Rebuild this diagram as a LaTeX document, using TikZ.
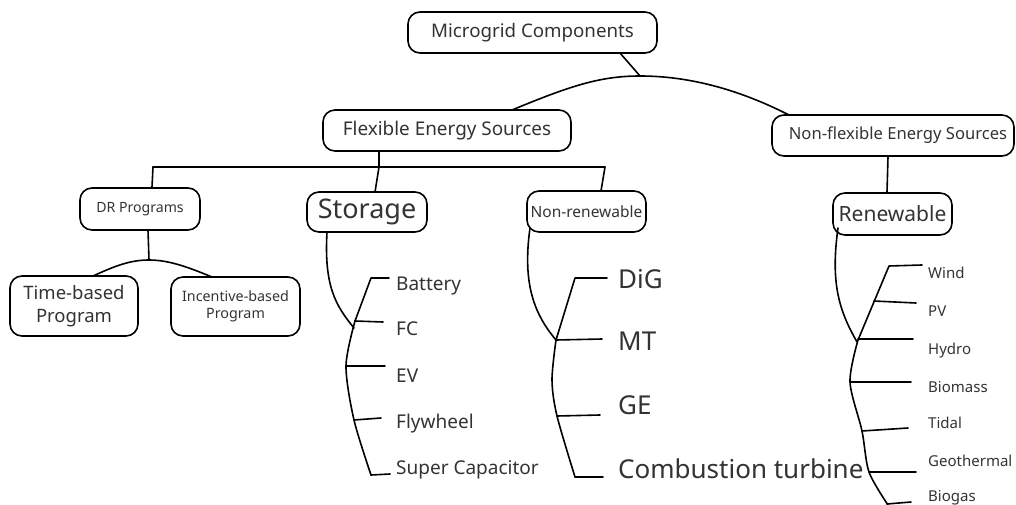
\documentclass[tikz,border=0pt]{standalone}
\usepackage{fontspec}
\setmainfont{Noto Sans}
\usetikzlibrary{calc}
\newcommand{\fs}[1]{\fontsize{#1}{#1}\selectfont}
\newcommand{\fsl}[2]{\fontsize{#1}{#2}\selectfont}
\begin{document}
\begin{tikzpicture}[x=1pt,y=-1pt,
  box/.style={draw, line width=1.6pt, rounded corners=12pt, inner sep=0pt, align=center, text=black!80},
  ln/.style={line width=1.6pt, line cap=round, line join=round},
  leaf/.style={anchor=west, inner sep=0pt, text height=0.72em, text depth=0pt, text=black!80}]
\useasboundingbox (0,0) rectangle (1016,505);
% boxes
\node[box, minimum width=249pt, minimum height=41pt, font=\fs{18.7}] (mc) at (532.5,32.5) {Microgrid Components};
\node[box, minimum width=248pt, minimum height=41pt, font=\fs{18.9}] (fes) at (447,130.5) {Flexible Energy Sources};
\node[box, minimum width=242pt, minimum height=41pt, font=\fs{16.6}] (nfes) at (893,135.5) {\hspace*{10pt}Non-flexible Energy Sources};
\node[box, minimum width=120pt, minimum height=42pt, font=\fs{14.1}] (dr) at (140,209) {DR Programs};
\node[box, minimum width=120pt, minimum height=40pt, font=\fs{27}] (st) at (367,212) {Storage};
\node[box, minimum width=119pt, minimum height=41pt, font=\fs{15.5}] (nr) at (586.5,211.5) {Non-renewable};
\node[box, minimum width=119pt, minimum height=42pt, font=\fs{21}] (rn) at (892.5,214) {Renewable};
\node[box, minimum width=128pt, minimum height=60pt, font=\fsl{18.5}{23}] (tb) at (74,306) {Time-based\\Program};
\node[box, minimum width=129pt, minimum height=59pt, font=\fsl{14.3}{17.5}] (ib) at (235.5,306.5) {Incentive-based\\Program};
% coordinates
\coordinate (mcs) at (620,53);
\coordinate (hub) at (640,76);
\coordinate (fesn) at (512,110);
\coordinate (nfesn) at (789,115);
\coordinate (fess) at (379,151);
\coordinate (barL) at (153,167);
\coordinate (barR) at (605,167);
\coordinate (barS) at (379,167);
\coordinate (drs) at (148,230);
\coordinate (drhub) at (149,260);
% top level
\draw[ln] (mcs) -- (hub);
\draw[ln] (fesn) .. controls (570,86) and (600,76) .. (hub) .. controls (690,76) and (740,90) .. (nfesn);
\draw[ln] (fess) -- (barS);
\draw[ln] (barL) -- (barR);
\draw[ln] (barL) -- (dr.north -| 152,0);
\draw[ln] (barS) -- (375,192);
\draw[ln] (barR) -- (601,191);
\draw[ln] (nfes.south -| 888,0) -- (rn.north -| 887,0);
% DR
\draw[ln] (drs) -- (drhub);
\draw[ln] (93,276) .. controls (115,266) and (130,260) .. (drhub) .. controls (170,260) and (190,268) .. (212,277);
% Storage leaves
\node[leaf, font=\fs{19}] (bat) at (396,287) {Battery};
\node[leaf, font=\fs{19}] (fc) at (396,332) {FC};
\node[leaf, font=\fs{19}] (ev) at (396,379) {EV};
\node[leaf, font=\fs{19}] (fly) at (396,425) {Flywheel};
\node[leaf, font=\fs{19}] (sc) at (396,471) {Super Capacitor};
\draw[ln] (327,232) .. controls (324,285) and (335,305) .. (354,328);
\draw[ln] (389,278) -- (371,278) -- (355,321);
\draw[ln] plot[smooth] coordinates {(355,321) (346,366) (354,420) (371,475)};
\draw[ln] (371,475) -- (390,474);
\draw[ln] (355,321) -- (383,322);
\draw[ln] (346,366) -- (385,366);
\draw[ln] (354,420) -- (381,418);
% Non-renewable leaves
\node[leaf, font=\fs{26}] (dig) at (618,285) {DiG};
\node[leaf, font=\fs{26}] (mt) at (618,347) {MT};
\node[leaf, font=\fs{26}] (ge) at (618,411) {GE};
\node[leaf, font=\fs{26}] (ct) at (618,475) {Combustion turbine};
\draw[ln] (530,228) .. controls (522,285) and (535,315) .. (556,340);
\draw[ln] (607,278) -- (575,278) -- (556,340);
\draw[ln] plot[smooth] coordinates {(556,340) (552,380) (557,416) (575,477)};
\draw[ln] (575,477) -- (603,477);
\draw[ln] (556,340) -- (602,339);
\draw[ln] (557,416) -- (600,415);
% Renewable leaves
\node[leaf, font=\fs{15}] (wind) at (928,275) {Wind};
\node[leaf, font=\fs{15}] (pv) at (928,313) {PV};
\node[leaf, font=\fs{15}] (hydro) at (928,351) {Hydro};
\node[leaf, font=\fs{15}] (bio) at (928,389) {Biomass};
\node[leaf, font=\fs{15}] (tid) at (928,425) {Tidal};
\node[leaf, font=\fs{15}] (geo) at (928,463) {Geothermal};
\node[leaf, font=\fs{15}] (bgas) at (928,498) {Biogas};
\draw[ln] (838,228) .. controls (830,285) and (840,312) .. (857,342);
\draw[ln] (922,265) -- (889,266) -- (858,340);
\draw[ln] plot[smooth] coordinates {(858,340) (850,382) (862,431) (869,472) (888,505)};
\draw[ln] (874,301) -- (916,303);
\draw[ln] (858,339) -- (913,339);
\draw[ln] (850,382) -- (911,382);
\draw[ln] (862,431) -- (908,428);
\draw[ln] (869,472) -- (916,472);
\draw[ln] (887,504) -- (911,502);
\end{tikzpicture}
\end{document}
